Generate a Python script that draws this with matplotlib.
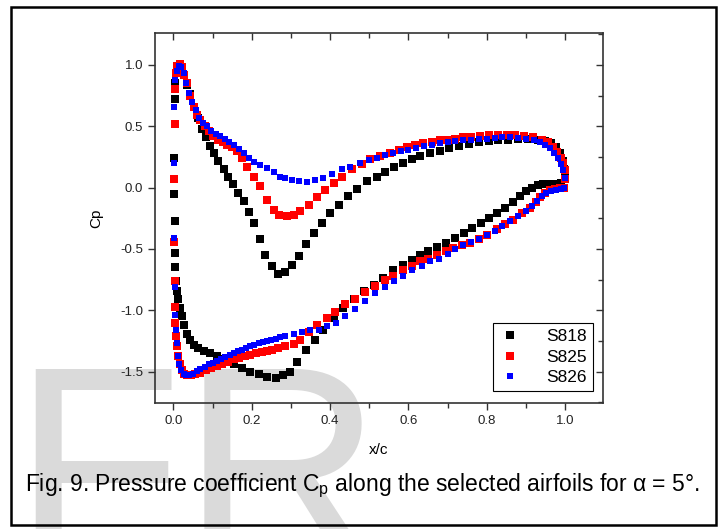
import matplotlib
matplotlib.use("Agg")
import matplotlib.pyplot as plt
from matplotlib.patches import Rectangle
from matplotlib.ticker import MultipleLocator

plt.rcParams['font.family'] = ['Liberation Sans', 'DejaVu Sans']
plt.rcParams['mathtext.default'] = 'regular'

# S818 (black)
s818_x = [0.002, 0.003, 0.005, 0.008, 0.011, 0.016, 0.022, 0.028, 0.035, 0.042, 0.052, 0.062,
          0.072, 0.082, 0.093, 0.103, 0.115, 0.128, 0.14, 0.153, 0.166, 0.18, 0.193, 0.206,
          0.221, 0.235, 0.251, 0.268, 0.286, 0.303, 0.32, 0.339, 0.36, 0.379, 0.40, 0.424,
          0.447, 0.47, 0.494, 0.52, 0.541, 0.563, 0.586, 0.609, 0.63, 0.656, 0.68, 0.705,
          0.73, 0.755, 0.78, 0.805, 0.83, 0.855, 0.88, 0.905, 0.93, 0.95, 0.965, 0.978,
          0.988, 0.995, 0.998, 1.0,
          0.002, 0.003, 0.004, 0.005, 0.007, 0.009, 0.012, 0.016, 0.021, 0.028, 0.035, 0.043,
          0.052, 0.064, 0.077, 0.093, 0.111, 0.13, 0.154, 0.175, 0.196, 0.218, 0.239, 0.262,
          0.28, 0.298, 0.315, 0.339, 0.362, 0.383, 0.409, 0.434, 0.46, 0.486, 0.511, 0.536,
          0.562, 0.587, 0.609, 0.63, 0.651, 0.673, 0.695, 0.718, 0.741, 0.763, 0.785, 0.806,
          0.826, 0.846, 0.866, 0.885, 0.90, 0.915, 0.93, 0.945, 0.96, 0.975, 0.99]
s818_cp = [0.24, 0.72, 0.85, 0.95, 0.99, 1.0, 0.98, 0.92, 0.84, 0.76, 0.66, 0.57,
           0.48, 0.41, 0.34, 0.28, 0.22, 0.15, 0.09, 0.03, -0.04, -0.11, -0.20, -0.29,
           -0.42, -0.55, -0.64, -0.70, -0.69, -0.63, -0.56, -0.46, -0.37, -0.29, -0.21, -0.14,
           -0.07, -0.01, 0.05, 0.09, 0.13, 0.17, 0.20, 0.23, 0.255, 0.28, 0.30, 0.32,
           0.34, 0.355, 0.37, 0.38, 0.385, 0.39, 0.395, 0.395, 0.39, 0.38, 0.36, 0.33,
           0.28, 0.22, 0.15, 0.09,
           -0.05, -0.27, -0.53, -0.65, -0.76, -0.84, -0.91, -0.98, -1.05, -1.12, -1.19, -1.24,
           -1.28, -1.31, -1.33, -1.35, -1.37, -1.40, -1.44, -1.47, -1.50, -1.52, -1.54, -1.55,
           -1.53, -1.50, -1.42, -1.32, -1.24, -1.16, -1.06, -0.98, -0.91, -0.84, -0.79, -0.74,
           -0.67, -0.63, -0.59, -0.545, -0.52, -0.48, -0.45, -0.41, -0.37, -0.33, -0.29, -0.25,
           -0.21, -0.17, -0.12, -0.07, -0.03, 0.0, 0.02, 0.03, 0.03, 0.03, 0.04]

# S825 (red)
s825_x = [0.003, 0.004, 0.006, 0.01, 0.016, 0.022, 0.028, 0.035, 0.043, 0.052, 0.06, 0.069,
          0.08, 0.09, 0.102, 0.115, 0.126, 0.137, 0.15, 0.162, 0.175, 0.188, 0.205, 0.222,
          0.239, 0.256, 0.27, 0.29, 0.307, 0.324, 0.345, 0.366, 0.388, 0.409, 0.43, 0.456,
          0.481, 0.503, 0.528, 0.554, 0.575, 0.596, 0.617, 0.638, 0.66, 0.68, 0.70, 0.72,
          0.74, 0.76, 0.783, 0.805, 0.828, 0.851, 0.873, 0.895, 0.919, 0.94, 0.957, 0.97,
          0.98, 0.99, 0.995, 0.999, 1.0,
          0.002, 0.002, 0.003, 0.004, 0.005, 0.007, 0.009, 0.012, 0.016, 0.021, 0.027, 0.035,
          0.045, 0.056, 0.069, 0.083, 0.097, 0.111, 0.125, 0.14, 0.154, 0.168, 0.182, 0.196,
          0.21, 0.225, 0.239, 0.253, 0.268, 0.286, 0.307, 0.324, 0.345, 0.366, 0.392, 0.413,
          0.439, 0.464, 0.49, 0.515, 0.541, 0.562, 0.587, 0.609, 0.63, 0.651, 0.673, 0.695,
          0.715, 0.737, 0.758, 0.78, 0.80, 0.826, 0.846, 0.868, 0.89, 0.911, 0.925, 0.936,
          0.948, 0.962, 0.975, 0.988, 0.997]
s825_cp = [0.52, 0.80, 0.93, 0.99, 1.01, 0.98, 0.92, 0.85, 0.75, 0.66, 0.59, 0.55,
           0.50, 0.46, 0.42, 0.39, 0.37, 0.35, 0.33, 0.30, 0.24, 0.17, 0.09, 0.01,
           -0.10, -0.18, -0.22, -0.235, -0.22, -0.19, -0.14, -0.08, -0.02, 0.04, 0.09, 0.15,
           0.19, 0.23, 0.255, 0.28, 0.31, 0.33, 0.35, 0.365, 0.375, 0.385, 0.39, 0.40,
           0.41, 0.415, 0.42, 0.425, 0.43, 0.43, 0.425, 0.42, 0.41, 0.39, 0.37, 0.33,
           0.29, 0.24, 0.20, 0.14, 0.07,
           0.07, -0.44, -0.76, -0.97, -1.10, -1.21, -1.29, -1.37, -1.44, -1.49, -1.515, -1.525,
           -1.525, -1.52, -1.51, -1.49, -1.47, -1.455, -1.44, -1.42, -1.40, -1.39, -1.375, -1.36,
           -1.35, -1.34, -1.33, -1.32, -1.305, -1.29, -1.275, -1.24, -1.18, -1.12, -1.06, -1.01,
           -0.95, -0.91, -0.85, -0.80, -0.75, -0.72, -0.67, -0.64, -0.60, -0.58, -0.55, -0.52,
           -0.49, -0.47, -0.45, -0.42, -0.385, -0.34, -0.30, -0.26, -0.21, -0.165, -0.12, -0.08,
           -0.045, -0.02, -0.01, -0.005, 0.0]

# S826 (blue)
s826_x = [0.002, 0.004, 0.008, 0.014, 0.02, 0.026, 0.033, 0.04, 0.048, 0.057, 0.066, 0.076,
          0.086, 0.097, 0.108, 0.12, 0.131, 0.143, 0.154, 0.167, 0.18, 0.192, 0.205, 0.222,
          0.239, 0.256, 0.273, 0.286, 0.303, 0.32, 0.341, 0.362, 0.383, 0.405, 0.43, 0.452,
          0.477, 0.50, 0.52, 0.54, 0.56, 0.58, 0.60, 0.62, 0.64, 0.66, 0.68, 0.70,
          0.72, 0.74, 0.76, 0.78, 0.80, 0.82, 0.84, 0.86, 0.88, 0.90, 0.92, 0.935,
          0.95, 0.962, 0.973, 0.982, 0.99, 0.996, 1.0,
          0.002, 0.002, 0.003, 0.004, 0.006, 0.008, 0.011, 0.015, 0.02, 0.026, 0.033, 0.041,
          0.05, 0.06, 0.069, 0.08, 0.09, 0.10, 0.111, 0.122, 0.133, 0.144, 0.154, 0.165,
          0.175, 0.186, 0.196, 0.207, 0.218, 0.229, 0.239, 0.25, 0.261, 0.272, 0.286, 0.307,
          0.328, 0.349, 0.371, 0.392, 0.416, 0.439, 0.464, 0.49, 0.515, 0.541, 0.564, 0.587,
          0.61, 0.634, 0.656, 0.677, 0.70, 0.72, 0.74, 0.76, 0.78, 0.80, 0.82, 0.84,
          0.86, 0.88, 0.90, 0.915, 0.928, 0.94, 0.952, 0.965, 0.978, 0.99, 0.998]
s826_cp = [0.66, 0.88, 0.95, 0.99, 0.98, 0.93, 0.85, 0.77, 0.70, 0.63, 0.57, 0.53,
           0.50, 0.46, 0.44, 0.42, 0.40, 0.375, 0.35, 0.315, 0.28, 0.245, 0.21, 0.185,
           0.16, 0.125, 0.09, 0.08, 0.06, 0.05, 0.047, 0.06, 0.08, 0.11, 0.15, 0.17,
           0.20, 0.225, 0.245, 0.265, 0.28, 0.295, 0.31, 0.325, 0.34, 0.35, 0.36, 0.37,
           0.38, 0.385, 0.39, 0.395, 0.40, 0.405, 0.41, 0.41, 0.405, 0.40, 0.39, 0.375,
           0.35, 0.32, 0.28, 0.24, 0.19, 0.14, 0.08,
           0.20, -0.41, -0.81, -1.04, -1.16, -1.27, -1.37, -1.44, -1.49, -1.515, -1.525, -1.525,
           -1.515, -1.495, -1.48, -1.46, -1.44, -1.43, -1.415, -1.40, -1.38, -1.365, -1.35, -1.335,
           -1.32, -1.305, -1.29, -1.28, -1.27, -1.26, -1.25, -1.24, -1.23, -1.22, -1.205, -1.19,
           -1.18, -1.16, -1.16, -1.13, -1.10, -1.05, -0.985, -0.92, -0.86, -0.81, -0.76, -0.72,
           -0.67, -0.64, -0.60, -0.58, -0.54, -0.50, -0.47, -0.445, -0.42, -0.385, -0.35, -0.31,
           -0.27, -0.23, -0.19, -0.15, -0.11, -0.07, -0.04, -0.025, -0.02, -0.015, 0.0]

x_ticks = [0.0, 0.2, 0.4, 0.6, 0.8, 1.0]
y_ticks = [-1.5, -1.0, -0.5, 0.0, 0.5, 1.0]

fig = plt.figure(figsize=(7.22, 5.29), dpi=100)

# watermark behind everything
fig.text(12 / 722, -0.059, "FR", fontsize=200, color="#dadada", zorder=-5)

# outer frame
fig.patches.append(Rectangle((11 / 722, 1 - 525 / 529), (716 - 11) / 722, (525 - 7) / 529,
                             transform=fig.transFigure, fill=False, edgecolor="black",
                             linewidth=1.8, zorder=1))

ax = fig.add_axes([155 / 722, 1 - 403 / 529, (603 - 155) / 722, (403 - 33) / 529])
ax.set_facecolor("none")
ax.set_zorder(2)

ax.plot(s818_x, s818_cp, "s", color="black", ms=5.4, mew=0, label="S818")
ax.plot(s825_x, s825_cp, "s", color="red", ms=5.4, mew=0, label="S825")
ax.plot(s826_x, s826_cp, "s", color="blue", ms=3.9, mew=0, label="S826")

ax.set_xlim(-0.047, 1.097)
ax.set_ylim(-1.755, 1.26)
ax.set_xticks(x_ticks)
ax.set_xticklabels([f"{v:.1f}" for v in x_ticks])
ax.set_yticks(y_ticks)
ax.set_yticklabels([f"{v:.1f}" for v in y_ticks])
ax.xaxis.set_minor_locator(MultipleLocator(0.1))
ax.yaxis.set_minor_locator(MultipleLocator(0.25))

for s in ax.spines.values():
    s.set_color("#333333")
    s.set_linewidth(1.2)

ax.tick_params(axis="both", which="both", color="#333333", labelcolor="#222222", labelsize=9.5)
ax.tick_params(axis="x", which="major", direction="out", length=5, width=1, top=False)
ax.tick_params(axis="x", which="minor", direction="out", length=3.5, width=1, top=False)
ax.tick_params(axis="y", which="major", direction="out", length=5, width=1, right=False)
ax.tick_params(axis="y", which="minor", left=False, right=False)

# mirrored axes with inward ticks
top = ax.secondary_xaxis("top")
top.set_xticks(x_ticks)
top.xaxis.set_minor_locator(MultipleLocator(0.1))
top.tick_params(which="major", direction="in", length=5, width=1, labeltop=False, color="#333333")
top.tick_params(which="minor", direction="in", length=3.5, width=1, color="#333333")
right = ax.secondary_yaxis("right")
right.set_yticks(y_ticks)
right.yaxis.set_minor_locator(MultipleLocator(0.25))
right.tick_params(which="major", direction="in", length=5, width=1, labelright=False, color="#333333")
right.tick_params(which="minor", direction="in", length=3.5, width=1, color="#333333")
for sec in (top, right):
    for s in sec.spines.values():
        s.set_visible(False)

ax.set_xlabel("x/c", fontsize=11, labelpad=12)
ax.set_ylabel("Cp", fontsize=11, labelpad=12)

leg = ax.legend(loc="lower right", bbox_to_anchor=(0.978, 0.032), fontsize=12.5,
                frameon=True, fancybox=False, edgecolor="black", framealpha=1,
                handlelength=1.2, handletextpad=1.5, borderpad=0.35, labelspacing=0.3,
                borderaxespad=0)
leg.get_frame().set_linewidth(0.8)

fig.text(25 / 722, 1 - 486 / 529,
         "Fig. 9. Pressure coefficient C$_{p}$ along the selected airfoils for \u03b1 = 5\u00b0.",
         fontsize=16.5, va="center", ha="left")

fig.savefig("out.png", dpi=100)
